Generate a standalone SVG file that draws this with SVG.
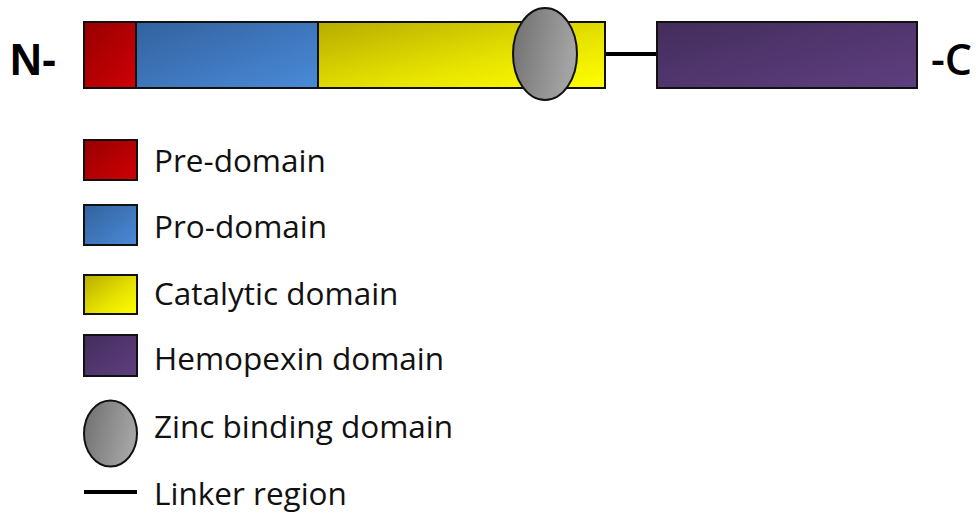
<svg xmlns="http://www.w3.org/2000/svg" width="976" height="513" viewBox="0 0 976 513">
<defs>
<linearGradient id="gRed" x1="0" y1="0" x2="1" y2="1"><stop offset="0" stop-color="#960000"/><stop offset="1" stop-color="#d00006"/></linearGradient>
<linearGradient id="gBlue" x1="0" y1="0" x2="1" y2="1"><stop offset="0" stop-color="#33629e"/><stop offset="1" stop-color="#4a8ad8"/></linearGradient>
<linearGradient id="gYel" x1="0" y1="0" x2="1" y2="1"><stop offset="0" stop-color="#b7ac00"/><stop offset="0.6" stop-color="#e8e400"/><stop offset="1" stop-color="#ffff00"/></linearGradient>
<linearGradient id="gPur" x1="0" y1="0" x2="1" y2="1"><stop offset="0" stop-color="#432d5b"/><stop offset="1" stop-color="#5e3f80"/></linearGradient>
<linearGradient id="gGrey" x1="0" y1="0" x2="1" y2="0.3"><stop offset="0" stop-color="#6e6e6e"/><stop offset="1" stop-color="#a4a4a4"/></linearGradient>
</defs>
<style>
.box{stroke:#111;stroke-width:2}
.lbl{font-family:"Open Sans","Noto Sans",sans-serif;font-size:31.5px;fill:#111}
.term{font-family:"Liberation Sans",Arial,sans-serif;font-size:44px;font-weight:bold;fill:#000}
.cterm{font-family:"Open Sans","Noto Sans",sans-serif;font-size:43px;font-weight:600;fill:#000}
.link{stroke:#000;stroke-width:4}
</style>
<rect width="976" height="513" fill="#fff"/>
<g id="connectors">
<line class="link" x1="605" y1="54" x2="657" y2="54"/>
</g>
<g id="n-term"><text class="term" x="10" y="75">N-</text></g>
<g id="pre-domain"><rect class="box" x="84" y="22" width="52" height="66" fill="url(#gRed)"/></g>
<g id="pro-domain"><rect class="box" x="136" y="22" width="182" height="66" fill="url(#gBlue)"/></g>
<g id="catalytic-domain"><rect class="box" x="318" y="22" width="287" height="66" fill="url(#gYel)"/></g>
<g id="zinc-binding"><ellipse class="box" cx="545" cy="54" rx="32" ry="46" fill="url(#gGrey)"/></g>
<g id="hemopexin-domain"><rect class="box" x="657" y="22" width="260" height="66" fill="url(#gPur)"/></g>
<g id="c-term"><text class="cterm" x="931" y="75">-C</text></g>
<g id="legend">
<rect class="box" x="84" y="140" width="53" height="40" fill="url(#gRed)" stroke-width="1.5"/>
<text class="lbl" x="154" y="172">Pre-domain</text>
<rect class="box" x="84" y="205" width="53" height="40" fill="url(#gBlue)" stroke-width="1.5"/>
<text class="lbl" x="154" y="238">Pro-domain</text>
<rect class="box" x="84" y="275" width="53" height="39" fill="url(#gYel)" stroke-width="1.5"/>
<text class="lbl" x="154" y="305">Catalytic domain</text>
<rect class="box" x="84" y="335" width="53" height="41" fill="url(#gPur)" stroke-width="1.5"/>
<text class="lbl" x="154" y="370">Hemopexin domain</text>
<ellipse class="box" cx="110.5" cy="433.5" rx="26.5" ry="33" fill="url(#gGrey)" stroke-width="1.5"/>
<text class="lbl" x="154" y="438">Zinc binding domain</text>
<line class="link" x1="84" y1="492" x2="137" y2="492"/>
<text class="lbl" x="154" y="505">Linker region</text>
</g>
</svg>
